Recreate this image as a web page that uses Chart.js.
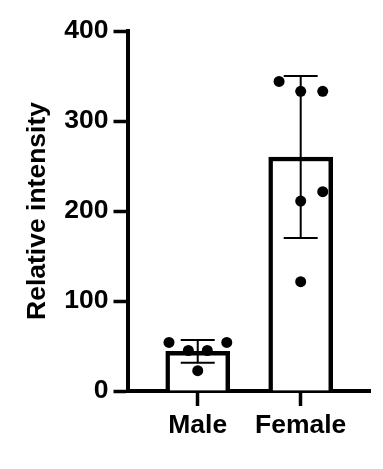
<!DOCTYPE html>
<html>
<head>
<meta charset="utf-8">
<script src="https://cdn.jsdelivr.net/npm/chart.js@4"></script>
<style>
  html, body { margin: 0; padding: 0; background: #fff; }
  #wrap { width: 383px; height: 469px; }
</style>
</head>
<body>
<div id="wrap"><canvas id="c" width="383" height="469"></canvas></div>
<script>
// ---- data ----
const categories = ['Male', 'Female'];
const means = [44, 260];
const sds = [12.6, 90];
const maleValues = [54, 45, 45, 54, 22.6];
const femaleValues = [344, 333, 333, 221.5, 211, 121.5];
const maleJitter = [-0.279, -0.091, 0.093, 0.282, 0];
const femaleJitter = [-0.21, 0, 0.214, 0.214, 0, 0];
const yTicks = [0, 100, 200, 300, 400];
const yTitle = 'Relative intensity';

const FONT = { family: '"Liberation Sans", Arial, sans-serif', size: 26.5, weight: 'bold' };

const barData = means.map((m, i) => ({ x: i + 1, y: m }));
const pointData = [
  ...maleValues.map((v, i) => ({ x: 1 + maleJitter[i], y: v })),
  ...femaleValues.map((v, i) => ({ x: 2 + femaleJitter[i], y: v }))
];

const isCat = (v) => Math.abs(v - Math.round(v)) < 1e-6 && categories[Math.round(v) - 1] !== undefined;

const errorBars = {
  id: 'errorBars',
  afterDatasetDraw(chart, args) {
    if (args.index !== 0) return;
    const { ctx, scales: { x, y } } = chart;
    ctx.save();
    ctx.strokeStyle = '#000';
    ctx.lineWidth = 2;
    means.forEach((m, i) => {
      const px = x.getPixelForValue(i + 1);
      const top = y.getPixelForValue(m + sds[i]);
      const bot = y.getPixelForValue(m - sds[i]);
      const half = 17;
      ctx.beginPath();
      ctx.moveTo(px, top); ctx.lineTo(px, bot);
      ctx.moveTo(px - half, top); ctx.lineTo(px + half, top);
      ctx.moveTo(px - half, bot); ctx.lineTo(px + half, bot);
      ctx.stroke();
    });
    ctx.restore();
  }
};

new Chart(document.getElementById('c'), {
  type: 'bar',
  data: {
    datasets: [
      {
        type: 'bar',
        data: barData,
        backgroundColor: '#fff',
        borderColor: '#000',
        borderWidth: 4.5,
        barThickness: 64,
        order: 2
      },
      {
        type: 'scatter',
        data: pointData,
        backgroundColor: '#000',
        borderWidth: 0,
        pointRadius: 5.5,
        order: 1
      }
    ]
  },
  options: {
    responsive: false,
    animation: false,
    devicePixelRatio: 1,
    layout: { padding: { top: 31, right: 13, left: 0, bottom: 0 } },
    plugins: { legend: { display: false }, tooltip: { enabled: false } },
    scales: {
      x: {
        type: 'linear',
        min: 0.318,
        max: 2.673,
        offset: false,
        afterFit(scale) { scale.height = 78; },
        afterBuildTicks(scale) { scale.ticks = categories.map((c, i) => ({ value: i + 1 })); },
        ticks: {
          color: '#000',
          font: FONT,
          padding: 4,
          stepSize: 1,
          includeBounds: false,
          maxRotation: 0,
          autoSkip: false,
          callback: (v) => isCat(v) ? categories[Math.round(v) - 1] : ''
        },
        grid: {
          offset: false,
          drawOnChartArea: false, drawTicks: true, tickLength: 15, tickWidth: 3.5,
          tickColor: (ctx) => (ctx.tick && isCat(ctx.tick.value)) ? '#000' : 'rgba(0,0,0,0)',
          color: '#000'
        },
        border: { display: true, color: '#000', width: 4 }
      },
      y: {
        type: 'linear',
        min: 0,
        max: 400,
        afterFit(scale) { scale.width = 127.5; },
        afterBuildTicks(scale) { scale.ticks = yTicks.map(v => ({ value: v })); },
        ticks: { color: '#000', font: FONT, padding: 5 },
        grid: { drawOnChartArea: false, drawTicks: true, tickLength: 14, tickWidth: 3.5, tickColor: '#000', color: '#000' },
        border: { display: true, color: '#000', width: 4 },
        title: { display: true, text: yTitle, color: '#000', font: FONT, padding: { top: 22, bottom: 0 } }
      }
    }
  },
  plugins: [errorBars]
});
</script>
</body>
</html>
